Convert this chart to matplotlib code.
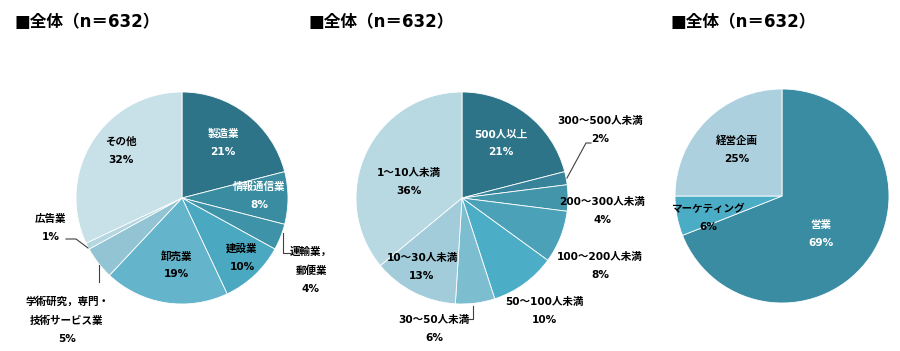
import matplotlib.pyplot as plt

# 英数字は DejaVu、日本語は Noto にフォールバック
plt.rcParams['font.family'] = ['DejaVu Sans', 'Noto Sans CJK JP']

# データ
title = '■全体（n＝632）'

industry_labels = ['製造業', '情報通信業', '運輸業，\n郵便業', '建設業', '卸売業',
                   '学術研究，専門・\n技術サービス業', '広告業', 'その他']
industry_values = [21, 8, 4, 10, 19, 5, 1, 32]

size_labels = ['500人以上', '300～500人未満', '200～300人未満', '100～200人未満',
               '50～100人未満', '30～50人未満', '10～30人未満', '1～10人未満']
size_values = [21, 2, 4, 8, 10, 6, 13, 36]

dept_labels = ['営業', 'マーケティング', '経営企画']
dept_values = [69, 6, 25]

# 色
industry_colors = ['#2e7489', '#3a8ca0', '#3f93a8', '#4aa8c0', '#64b4cb', '#92c4d3', '#b3d6e0', '#c8e0e8']
size_colors = ['#2e7489', '#37849a', '#4395aa', '#4ba2b8', '#4badc6', '#7dbdd0', '#a2ccd9', '#b8d8e2']
dept_colors = ['#3a8ca3', '#4bacc6', '#add0df']

# ラベル位置（円の中心からのピクセル差, 下向き正）と文字色
industry_pos = [(41, -55), (77, -2), (129, 72), (60, 60), (-6, 67), (-115, 122), (-131, 30), (-61, -47)]
industry_txt = ['white', 'white', 'black', 'black', 'black', 'black', 'black', 'black']
size_pos = [(39, -55), (138, -68), (140, 13), (138, 68), (82, 113), (-28, 131), (-40, 69), (-53, -16)]
size_txt = ['white', 'black', 'black', 'black', 'black', 'black', 'black', 'black']
dept_pos = [(39, 38), (-74, 22), (-45, -46)]
dept_txt = ['white', 'black', 'black']

W, H = 900, 351
fig = plt.figure(figsize=(9, 3.51), dpi=100)
ax = fig.add_axes([0, 0, 1, 1])


def draw(cx, cy, r, values, labels, colors, pos, txt):
    ax.pie(values, colors=colors, startangle=90, counterclock=False,
           center=(cx, H - cy), radius=r,
           wedgeprops=dict(edgecolor='white', linewidth=0.6))
    for v, lab, (dx, dy), c in zip(values, labels, pos, txt):
        ax.text(cx + dx, H - cy - dy, f'{lab}\n{v}%', ha='center', va='center',
                fontsize=7.6, fontweight='bold', color=c, linespacing=2.0)


draw(182, 198, 106, industry_values, industry_labels, industry_colors, industry_pos, industry_txt)
draw(462, 198, 106, size_values, size_labels, size_colors, size_pos, size_txt)
draw(782, 196, 107, dept_values, dept_labels, dept_colors, dept_pos, dept_txt)

# 引き出し線
def leader(pts):
    xs = [p[0] for p in pts]
    ys = [H - p[1] for p in pts]
    ax.plot(xs, ys, color='#404040', linewidth=0.8)

leader([(283, 233), (283, 253), (290, 253)])
leader([(99, 265), (99, 282)])
leader([(66, 239), (76, 239), (88, 248)])
leader([(567, 178), (586, 143), (591, 143)])
leader([(473, 306), (473, 319), (467, 319)])

for x0 in (15, 309, 670):
    ax.text(x0, H - 22, title, ha='left', va='center', fontsize=12, fontweight='bold')

ax.set_xlim(0, W)
ax.set_ylim(0, H)
ax.set_aspect('equal')
ax.axis('off')

fig.savefig('out.png', dpi=100)
